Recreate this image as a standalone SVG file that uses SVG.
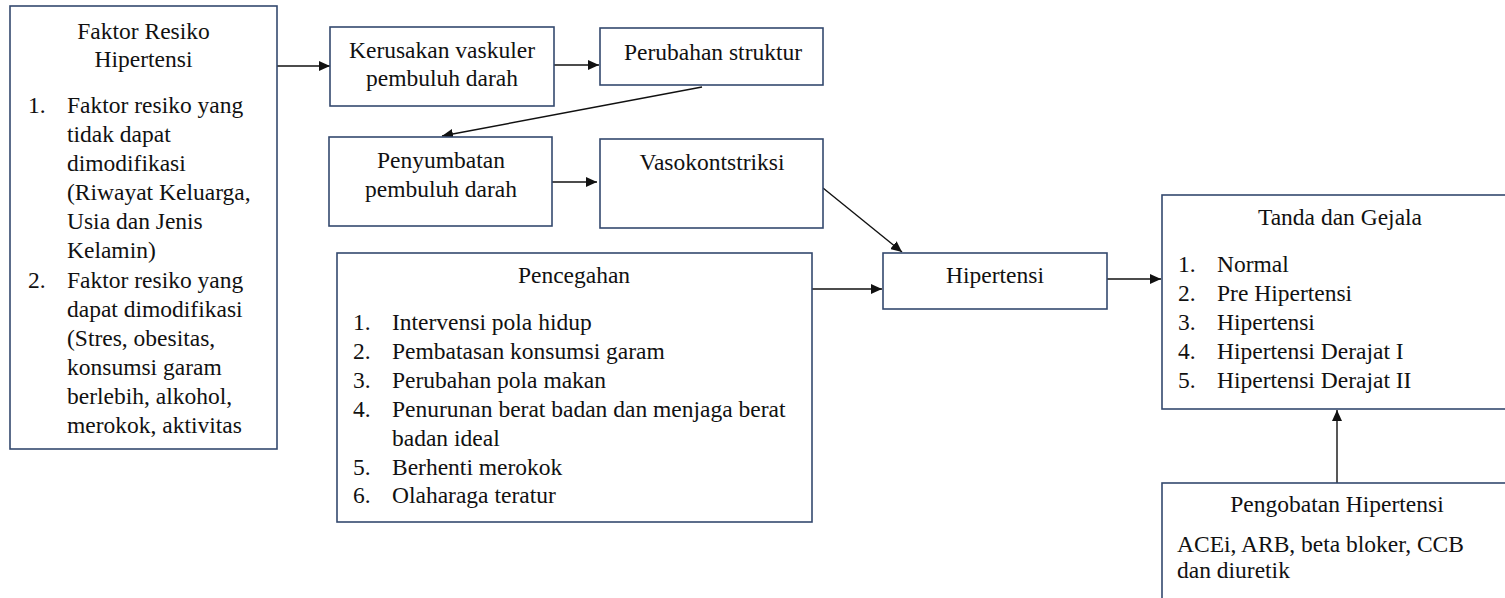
<svg xmlns="http://www.w3.org/2000/svg" width="1505" height="598" viewBox="0 0 1505 598">
<style>
.box{fill:#fff;stroke:#34496e;stroke-width:1.6}
text{font-size:23.5px;fill:#111}
.c{text-anchor:middle}
.con{stroke:#111;stroke-width:1.4;fill:none;marker-end:url(#ah)}
</style>
<defs>
<marker id="ah" markerUnits="userSpaceOnUse" markerWidth="12" markerHeight="10" refX="11" refY="5" orient="auto">
<path d="M0,0 L11,5 L0,10 z" fill="#111"/>
</marker>
</defs>
<rect width="1505" height="598" fill="#fff"/>
<g id="connectors">
<line class="con" x1="277" y1="66" x2="330" y2="66"/>
<line class="con" x1="554" y1="65" x2="599" y2="65"/>
<line class="con" x1="702" y1="87" x2="442" y2="136"/>
<line class="con" x1="552" y1="182" x2="597" y2="182"/>
<line class="con" x1="823" y1="188" x2="902" y2="252"/>
<line class="con" x1="812" y1="289" x2="882" y2="289"/>
<line class="con" x1="1107" y1="279" x2="1161" y2="279"/>
<line class="con" x1="1337" y1="483" x2="1337" y2="410"/>
</g>
<g font-family="Liberation Serif, Tinos, DejaVu Serif, serif">
<g id="faktor">
<rect class="box" x="10" y="6" width="267" height="443"/>
<text class="c" x="143.5" y="39">Faktor Resiko</text>
<text class="c" x="143.5" y="67">Hipertensi</text>
<text x="28" y="113">1.</text>
<text x="67" y="113">Faktor resiko yang</text>
<text x="67" y="142">tidak dapat</text>
<text x="67" y="171">dimodifikasi</text>
<text x="67" y="200">(Riwayat Keluarga,</text>
<text x="67" y="229">Usia dan Jenis</text>
<text x="67" y="258">Kelamin)</text>
<text x="28" y="287.5">2.</text>
<text x="67" y="287.5">Faktor resiko yang</text>
<text x="67" y="316.5">dapat dimodifikasi</text>
<text x="67" y="345.5">(Stres, obesitas,</text>
<text x="67" y="374.5">konsumsi garam</text>
<text x="67" y="404">berlebih, alkohol,</text>
<text x="67" y="433">merokok, aktivitas</text>
</g>
<g id="kerusakan">
<rect class="box" x="330" y="27" width="224" height="79"/>
<text class="c" x="442" y="58">Kerusakan vaskuler</text>
<text class="c" x="442" y="86">pembuluh darah</text>
</g>
<g id="perubahan">
<rect class="box" x="600" y="28" width="223" height="57"/>
<text class="c" x="713" y="60">Perubahan struktur</text>
</g>
<g id="penyumbatan">
<rect class="box" x="329" y="137" width="223" height="89"/>
<text class="c" x="441" y="168">Penyumbatan</text>
<text class="c" x="441" y="197">pembuluh darah</text>
</g>
<g id="vasokontstriksi">
<rect class="box" x="600" y="139" width="223" height="89"/>
<text class="c" x="712" y="170">Vasokontstriksi</text>
</g>
<g id="pencegahan">
<rect class="box" x="337" y="253" width="475" height="269"/>
<text class="c" x="574" y="283">Pencegahan</text>
<text x="353" y="330">1.</text>
<text x="392" y="330">Intervensi pola hidup</text>
<text x="353" y="359">2.</text>
<text x="392" y="359">Pembatasan konsumsi garam</text>
<text x="353" y="388">3.</text>
<text x="392" y="388">Perubahan pola makan</text>
<text x="353" y="417">4.</text>
<text x="392" y="417">Penurunan berat badan dan menjaga berat</text>
<text x="392" y="445.5">badan ideal</text>
<text x="353" y="474.5">5.</text>
<text x="392" y="474.5">Berhenti merokok</text>
<text x="353" y="503">6.</text>
<text x="392" y="503">Olaharaga teratur</text>
</g>
<g id="hipertensi">
<rect class="box" x="883" y="253" width="224" height="56"/>
<text class="c" x="995" y="283">Hipertensi</text>
</g>
<g id="tanda">
<rect class="box" x="1162" y="195" width="356" height="214"/>
<text class="c" x="1340" y="225">Tanda dan Gejala</text>
<text x="1178" y="272">1.</text>
<text x="1217" y="272">Normal</text>
<text x="1178" y="301">2.</text>
<text x="1217" y="301">Pre Hipertensi</text>
<text x="1178" y="330">3.</text>
<text x="1217" y="330">Hipertensi</text>
<text x="1178" y="359">4.</text>
<text x="1217" y="359">Hipertensi Derajat I</text>
<text x="1178" y="388">5.</text>
<text x="1217" y="388">Hipertensi Derajat II</text>
</g>
<g id="pengobatan">
<rect class="box" x="1162" y="483" width="350" height="130"/>
<text class="c" x="1337" y="512">Pengobatan Hipertensi</text>
<text x="1177" y="552">ACEi, ARB, beta bloker, CCB</text>
<text x="1177" y="578">dan diuretik</text>
</g>
</g>
</svg>
